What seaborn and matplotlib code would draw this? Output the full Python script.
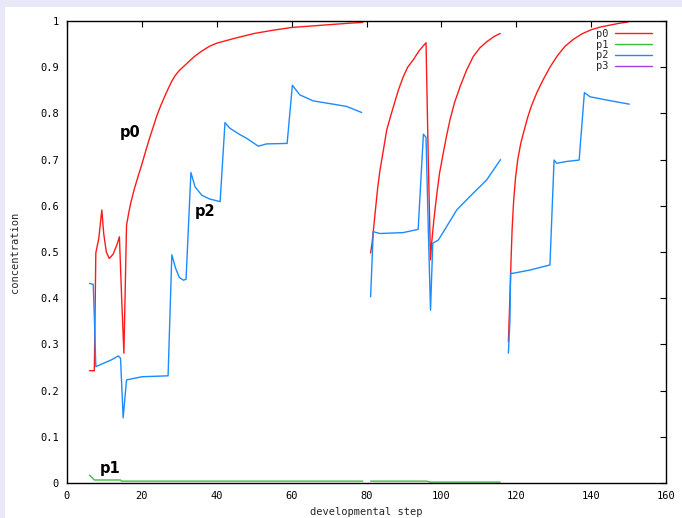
import numpy as np
import pandas as pd
import matplotlib
matplotlib.use("Agg")
import matplotlib.pyplot as plt
from matplotlib.lines import Line2D
from matplotlib.patches import Rectangle
import seaborn as sns

# ---------------- data ----------------
species = ["p0", "p1", "p2", "p3"]

# p0 (three simulation segments)
p0_x1 = [6.0, 7.3, 7.7, 8.5, 9.3, 9.8, 10.5, 11.3, 12.3, 13.3, 14.0, 14.6, 15.2, 15.9,
         16.5, 17, 18, 19, 20, 21, 22, 23, 24, 25, 26, 27, 28, 29, 30, 32, 34, 36, 38, 40,
         45, 50, 55, 60, 65, 70, 75, 79]
p0_y1 = [0.243, 0.243, 0.498, 0.53, 0.591, 0.54, 0.50, 0.486, 0.495, 0.515, 0.533, 0.40, 0.281, 0.558,
         0.585, 0.605, 0.637, 0.664, 0.69, 0.718, 0.745, 0.77, 0.795, 0.816, 0.835, 0.853, 0.87,
         0.883, 0.893, 0.908, 0.923, 0.935, 0.945, 0.952,
         0.963, 0.973, 0.98, 0.986, 0.989, 0.992, 0.995, 0.997]
p0_x2 = [81.1, 81.5, 82.0, 82.5, 83.0, 83.6, 84.5, 85.4, 86.3, 87.2, 88.5, 89.8, 91.0, 92.5, 94.0, 95.9,
         96.5, 97.1, 97.4, 98.0, 98.7, 99.5, 100.5, 101.4, 102.3, 103.5, 105.0, 106.7, 108.5,
         110.3, 112.1, 114.0, 115.7]
p0_y2 = [0.498, 0.52, 0.56, 0.60, 0.64, 0.677, 0.72, 0.764, 0.79, 0.815, 0.85, 0.879, 0.90, 0.916,
         0.935, 0.953, 0.70, 0.483, 0.519, 0.57, 0.62, 0.67, 0.714, 0.752, 0.786, 0.823, 0.858, 0.893,
         0.923, 0.942, 0.955, 0.966, 0.973]
p0_x3 = [117.9, 118.0, 118.3, 118.6, 118.9, 119.3, 119.8, 120.4, 121.2, 122.0, 123.0, 124.0, 125.5,
         127.0, 129.0, 131.0, 133.0, 135.2, 137.5, 140.0, 142.5, 145.0, 147.5, 149.9]
p0_y3 = [0.306, 0.33, 0.40, 0.48, 0.55, 0.61, 0.66, 0.70, 0.735, 0.76, 0.79, 0.815, 0.845,
         0.87, 0.90, 0.925, 0.945, 0.96, 0.972, 0.981, 0.987, 0.991, 0.995, 0.998]

# p1
p1_x1 = [6.0, 7.3, 14.3, 14.5, 79]
p1_y1 = [0.017, 0.0065, 0.0065, 0.004, 0.004]
p1_x2 = [81.1, 96, 97, 115.7]
p1_y2 = [0.004, 0.004, 0.002, 0.002]

# p2
p2_x1 = [6.0, 7.0, 7.3, 7.7, 10, 12, 13.7, 14.3, 15.0, 15.9, 17, 20, 27, 28, 29, 30, 31.1, 31.8,
         33.1, 34.2, 36, 38, 40.9, 42.2, 43.5, 46, 48, 51.1, 53.3, 58.8, 60.2, 62.2, 65.8, 71.1, 74.7, 78.7]
p2_y1 = [0.432, 0.430, 0.36, 0.252, 0.26, 0.267, 0.275, 0.27, 0.141, 0.223, 0.225, 0.230, 0.232, 0.494,
         0.465, 0.445, 0.439, 0.441, 0.672, 0.641, 0.623, 0.615, 0.609, 0.780, 0.768, 0.755, 0.746, 0.729,
         0.734, 0.735, 0.861, 0.840, 0.827, 0.820, 0.815, 0.802]
p2_x2 = [81.1, 81.8, 83.6, 89.8, 93.8, 95.2, 95.9, 96.5, 97.1, 97.7, 99.2, 101.4, 104.1, 107.6, 112.1, 115.8]
p2_y2 = [0.403, 0.544, 0.540, 0.542, 0.549, 0.755, 0.748, 0.55, 0.374, 0.519, 0.526, 0.555, 0.591,
         0.620, 0.656, 0.700]
p2_x3 = [117.9, 118.3, 118.5, 119.2, 123.7, 129.0, 130.1, 130.8, 133.5, 136.8, 138.2, 139.7, 144.1, 150.2]
p2_y3 = [0.281, 0.35, 0.454, 0.454, 0.461, 0.472, 0.699, 0.692, 0.696, 0.699, 0.845, 0.836, 0.829, 0.820]

x_ticks = [0, 20, 40, 60, 80, 100, 120, 140, 160]
y_ticks = [0, 0.1, 0.2, 0.3, 0.4, 0.5, 0.6, 0.7, 0.8, 0.9, 1]
y_tick_labels = ["0", "0.1", "0.2", "0.3", "0.4", "0.5", "0.6", "0.7", "0.8", "0.9", "1"]

colors = {"p0": "#ff1a1a", "p1": "#3cc03c", "p2": "#1a8cff", "p3": "#a040e0"}

# build long-form table
rows = []
series = [
    ("p0", 1, p0_x1, p0_y1), ("p0", 2, p0_x2, p0_y2), ("p0", 3, p0_x3, p0_y3),
    ("p1", 1, p1_x1, p1_y1), ("p1", 2, p1_x2, p1_y2),
    ("p2", 1, p2_x1, p2_y1), ("p2", 2, p2_x2, p2_y2), ("p2", 3, p2_x3, p2_y3),
]
for name, seg, xs, ys in series:
    for xv, yv in zip(xs, ys):
        rows.append({"species": name, "segment": f"{name}_{seg}", "step": xv, "conc": yv})
df = pd.DataFrame(rows)

# ---------------- figure ----------------
sns.set_style("white")
plt.rcParams["font.family"] = ["DejaVu Sans Mono", "DejaVu Sans"]

fig = plt.figure(figsize=(6.82, 5.18), dpi=100, facecolor="#e8e8f8")
bg = Rectangle((5 / 682, 0), 677 / 682, 1 - 7 / 518, transform=fig.transFigure,
               facecolor="white", edgecolor="none", zorder=-10)
fig.add_artist(bg)
ax = fig.add_axes([67 / 682, 1 - 483 / 518, (666 - 67) / 682, (483 - 21) / 518])
ax.set_zorder(5)
ax.set_facecolor("white")

for seg, sub in df.groupby("segment", sort=False):
    sns.lineplot(data=sub, x="step", y="conc", hue="species", palette=colors,
                 estimator=None, sort=False, lw=1.0, ax=ax, legend=False)

ax.set_xlim(0, 160)
ax.set_ylim(0, 1)
ax.set_xticks(x_ticks)
ax.set_xticklabels([str(t) for t in x_ticks])
ax.set_yticks(y_ticks)
ax.set_yticklabels(y_tick_labels)
ax.tick_params(direction="in", length=4, width=0.8, top=True, right=True,
               labelsize=7.5, colors="black", pad=6)
for s in ax.spines.values():
    s.set_visible(True)
    s.set_color("black")
    s.set_linewidth(1.0)

ax.set_xlabel("developmental step", fontsize=7.5, labelpad=4)
ax.set_ylabel("concentration", fontsize=7.5, labelpad=14)

# in-plot labels
lab_font = dict(fontsize=10.5, fontweight="bold", family="DejaVu Sans", color="black",
                ha="center", va="center")
ax.text(16.8, 0.758, "p0", **lab_font)
ax.text(36.9, 0.587, "p2", **lab_font)
ax.text(11.5, 0.032, "p1", **lab_font)

handles = [Line2D([], [], color=colors[s], lw=1.0) for s in species]
ax.legend(handles, species, loc="upper right", bbox_to_anchor=(0.99, 1.0), frameon=False,
          markerfirst=False, handlelength=3.6, handletextpad=0.6, labelspacing=0.08,
          fontsize=7.5, borderaxespad=0.35)

fig.savefig("out.png", dpi=100, facecolor=fig.get_facecolor())
